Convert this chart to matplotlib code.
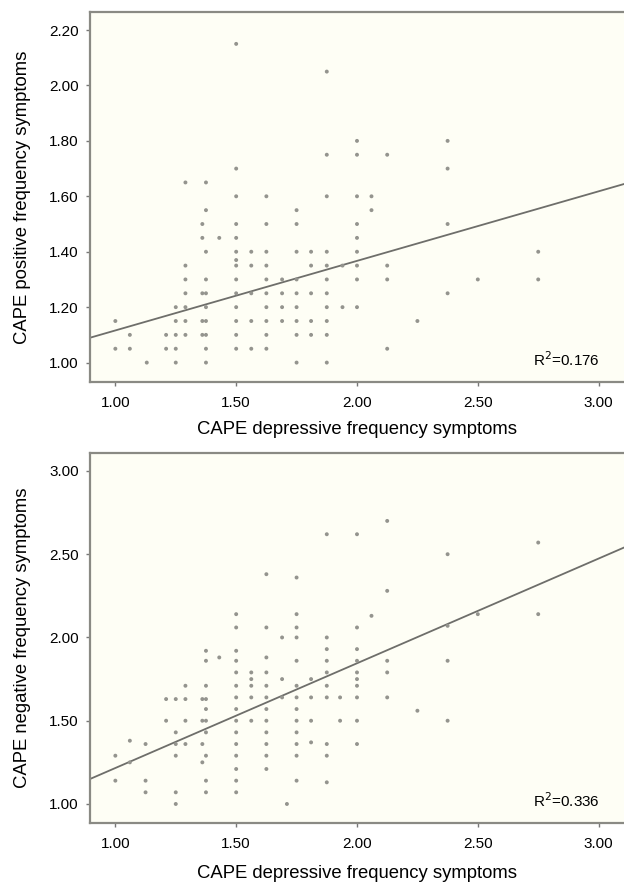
import numpy as np
from matplotlib import pyplot as plt

plt.rcParams['font.family'] = ['Liberation Sans', 'DejaVu Sans']

# depressive score columns and the positive scores found in each column (top panel)
pos_cols = [1.00, 1.06, 1.13, 1.21, 1.25, 1.29, 1.36, 1.375, 1.43, 1.50, 1.5625,
            1.625, 1.69, 1.75, 1.81, 1.875, 1.94, 2.00, 2.06, 2.125, 2.25,
            2.375, 2.50, 2.75]
pos_vals = [
    [1.15, 1.05],
    [1.10, 1.05],
    [1.00],
    [1.10, 1.05],
    [1.20, 1.15, 1.10, 1.05, 1.00],
    [1.65, 1.35, 1.30, 1.25, 1.20, 1.15, 1.10],
    [1.50, 1.45, 1.25, 1.15, 1.10],
    [1.65, 1.55, 1.40, 1.30, 1.25, 1.20, 1.15, 1.10, 1.05, 1.00],
    [1.45],
    [2.15, 1.70, 1.60, 1.50, 1.45, 1.40, 1.37, 1.35, 1.30, 1.25, 1.20, 1.15, 1.10, 1.05],
    [1.40, 1.35, 1.25, 1.15, 1.05],
    [1.60, 1.50, 1.40, 1.35, 1.30, 1.25, 1.20, 1.15, 1.10, 1.05],
    [1.30, 1.25, 1.20, 1.15],
    [1.55, 1.50, 1.40, 1.30, 1.25, 1.20, 1.15, 1.10, 1.00],
    [1.40, 1.35, 1.25, 1.15, 1.10],
    [2.05, 1.75, 1.60, 1.40, 1.35, 1.30, 1.25, 1.20, 1.15, 1.10, 1.00],
    [1.35, 1.20],
    [1.80, 1.75, 1.60, 1.50, 1.45, 1.40, 1.35, 1.30, 1.20],
    [1.60, 1.55],
    [1.75, 1.35, 1.30, 1.05],
    [1.15],
    [1.80, 1.70, 1.50, 1.25],
    [1.30],
    [1.40, 1.30],
]

# depressive score columns and the negative scores found in each column (bottom panel)
neg_cols = [1.00, 1.06, 1.125, 1.21, 1.25, 1.29, 1.36, 1.375, 1.43, 1.50, 1.5625,
            1.625, 1.69, 1.71, 1.75, 1.81, 1.875, 1.93, 2.00, 2.06, 2.125, 2.25,
            2.375, 2.50, 2.75]
neg_vals = [
    [1.29, 1.14],
    [1.38, 1.25],
    [1.36, 1.14, 1.07],
    [1.63, 1.50],
    [1.63, 1.43, 1.36, 1.29, 1.07, 1.00],
    [1.71, 1.63, 1.50, 1.36],
    [1.63, 1.50, 1.36, 1.25],
    [1.92, 1.86, 1.71, 1.63, 1.57, 1.50, 1.43, 1.29, 1.14, 1.07],
    [1.88],
    [2.14, 2.06, 1.92, 1.86, 1.79, 1.71, 1.64, 1.57, 1.50, 1.43, 1.36, 1.29, 1.21, 1.14, 1.07],
    [1.79, 1.75, 1.71, 1.64, 1.50],
    [2.38, 2.06, 1.88, 1.79, 1.71, 1.64, 1.57, 1.50, 1.43, 1.36, 1.29, 1.21],
    [2.00, 1.75, 1.64],
    [1.00],
    [2.36, 2.14, 2.06, 2.00, 1.86, 1.71, 1.64, 1.57, 1.50, 1.43, 1.36, 1.29, 1.14],
    [1.75, 1.64, 1.50, 1.37],
    [2.62, 2.00, 1.93, 1.86, 1.79, 1.71, 1.64, 1.36, 1.29, 1.13],
    [1.64, 1.50],
    [2.62, 2.06, 1.93, 1.86, 1.79, 1.75, 1.71, 1.64, 1.50, 1.36],
    [2.13],
    [2.70, 2.28, 1.86, 1.79, 1.64],
    [1.56],
    [2.50, 2.07, 1.86, 1.50],
    [2.14],
    [2.57, 2.14],
]

# fit lines (intercept, slope) and R squared as printed
pos_fit = (0.865, 0.251)
neg_fit = (0.587, 0.629)
pos_r2 = "0.176"
neg_r2 = "0.336"

xlabel = "CAPE depressive frequency symptoms"
pos_ylabel = "CAPE positive frequency symptoms"
neg_ylabel = "CAPE negative frequency symptoms"

xticks = [1.00, 1.50, 2.00, 2.50, 3.00]
pos_yticks = [1.00, 1.20, 1.40, 1.60, 1.80, 2.00, 2.20]
neg_yticks = [1.00, 1.50, 2.00, 2.50, 3.00]


def flatten(cols, vals):
    xs, ys = [], []
    for c, v in zip(cols, vals):
        xs += [c] * len(v)
        ys += v
    return np.array(xs), np.array(ys)


def panel(ax, cols, vals, fit, r2, ylabel, yticks, ylim, xpad):
    x, y = flatten(cols, vals)
    ax.set_facecolor('#fefef5')
    ax.scatter(x, y, s=8, marker='o', color='#94948e', edgecolors='none', zorder=3)
    xl = np.array([0.895, 3.105])
    ax.plot(xl, fit[0] + fit[1] * xl, color='#6e6e6a', lw=1.3, zorder=2)
    ax.set_xlim(0.895, 3.105)
    ax.set_ylim(*ylim)
    ax.set_xticks(xticks)
    ax.set_xticklabels(["%.2f" % t for t in xticks])
    ax.set_yticks(yticks)
    ax.set_yticklabels(["%.2f" % t for t in yticks])
    ax.tick_params(labelsize=11, length=3, width=1, color='#777777', pad=5)
    ax.tick_params(axis='x', pad=7)
    ax.set_xlabel(xlabel, fontsize=13.3, labelpad=xpad)
    ax.set_ylabel(ylabel, fontsize=13.3, labelpad=13)
    for s in ['left', 'bottom', 'top']:
        ax.spines[s].set_color('#8a8a84')
        ax.spines[s].set_linewidth(1.6)
    ax.spines['right'].set_visible(False)
    ax.text(0.955, 0.06, "R$^2$=" + r2, transform=ax.transAxes,
            ha='right', va='center', fontsize=11)


fig = plt.figure(figsize=(6.24, 8.83), dpi=100)
ax1 = fig.add_axes([0.1442, 0.5674, 0.8558, 0.419])
ax2 = fig.add_axes([0.1442, 0.068, 0.8558, 0.419])

panel(ax1, pos_cols, pos_vals, pos_fit, pos_r2, pos_ylabel, pos_yticks, (0.93, 2.265), 8)
panel(ax2, neg_cols, neg_vals, neg_fit, neg_r2, neg_ylabel, neg_yticks, (0.886, 3.108), 10)

fig.savefig("out.png", dpi=100, facecolor='white')
